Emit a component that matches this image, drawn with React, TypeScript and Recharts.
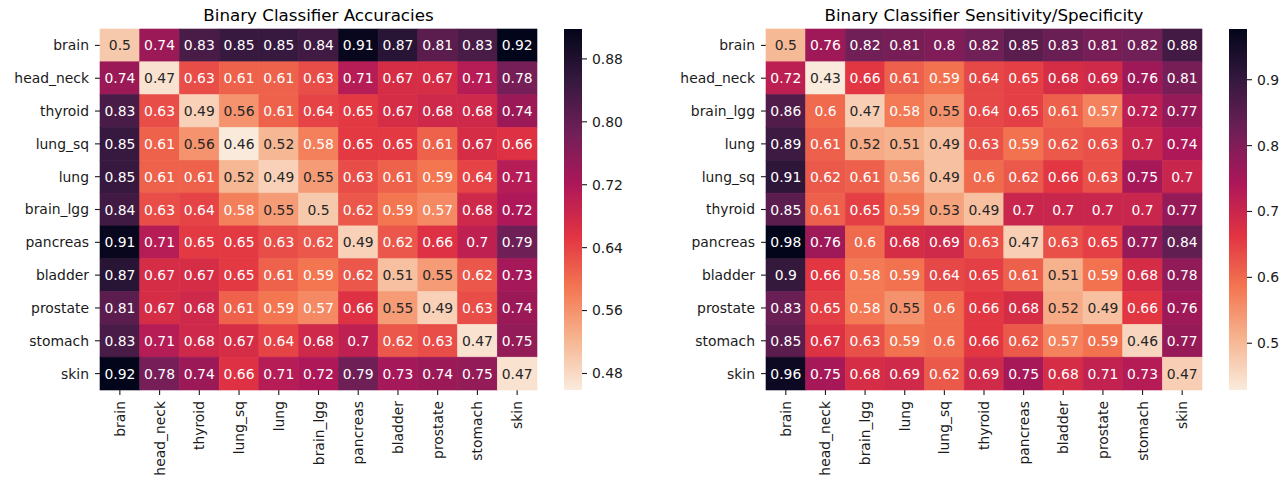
import React from 'react';
import {
  ScatterChart,
  Scatter,
  XAxis,
  YAxis,
  BarChart,
  Bar,
} from 'recharts';

// ---- data ----
const ACC_LABELS = [
  'brain', 'head_neck', 'thyroid', 'lung_sq', 'lung', 'brain_lgg',
  'pancreas', 'bladder', 'prostate', 'stomach', 'skin',
];

const ACC_VALUES = [
  [0.5, 0.74, 0.83, 0.85, 0.85, 0.84, 0.91, 0.87, 0.81, 0.83, 0.92],
  [0.74, 0.47, 0.63, 0.61, 0.61, 0.63, 0.71, 0.67, 0.67, 0.71, 0.78],
  [0.83, 0.63, 0.49, 0.56, 0.61, 0.64, 0.65, 0.67, 0.68, 0.68, 0.74],
  [0.85, 0.61, 0.56, 0.46, 0.52, 0.58, 0.65, 0.65, 0.61, 0.67, 0.66],
  [0.85, 0.61, 0.61, 0.52, 0.49, 0.55, 0.63, 0.61, 0.59, 0.64, 0.71],
  [0.84, 0.63, 0.64, 0.58, 0.55, 0.5, 0.62, 0.59, 0.57, 0.68, 0.72],
  [0.91, 0.71, 0.65, 0.65, 0.63, 0.62, 0.49, 0.62, 0.66, 0.7, 0.79],
  [0.87, 0.67, 0.67, 0.65, 0.61, 0.59, 0.62, 0.51, 0.55, 0.62, 0.73],
  [0.81, 0.67, 0.68, 0.61, 0.59, 0.57, 0.66, 0.55, 0.49, 0.63, 0.74],
  [0.83, 0.71, 0.68, 0.67, 0.64, 0.68, 0.7, 0.62, 0.63, 0.47, 0.75],
  [0.92, 0.78, 0.74, 0.66, 0.71, 0.72, 0.79, 0.73, 0.74, 0.75, 0.47],
];

const SENS_LABELS = [
  'brain', 'head_neck', 'brain_lgg', 'lung', 'lung_sq', 'thyroid',
  'pancreas', 'bladder', 'prostate', 'stomach', 'skin',
];

const SENS_VALUES = [
  [0.5, 0.76, 0.82, 0.81, 0.8, 0.82, 0.85, 0.83, 0.81, 0.82, 0.88],
  [0.72, 0.43, 0.66, 0.61, 0.59, 0.64, 0.65, 0.68, 0.69, 0.76, 0.81],
  [0.86, 0.6, 0.47, 0.58, 0.55, 0.64, 0.65, 0.61, 0.57, 0.72, 0.77],
  [0.89, 0.61, 0.52, 0.51, 0.49, 0.63, 0.59, 0.62, 0.63, 0.7, 0.74],
  [0.91, 0.62, 0.61, 0.56, 0.49, 0.6, 0.62, 0.66, 0.63, 0.75, 0.7],
  [0.85, 0.61, 0.65, 0.59, 0.53, 0.49, 0.7, 0.7, 0.7, 0.7, 0.77],
  [0.98, 0.76, 0.6, 0.68, 0.69, 0.63, 0.47, 0.63, 0.65, 0.77, 0.84],
  [0.9, 0.66, 0.58, 0.59, 0.64, 0.65, 0.61, 0.51, 0.59, 0.68, 0.78],
  [0.83, 0.65, 0.58, 0.55, 0.6, 0.66, 0.68, 0.52, 0.49, 0.66, 0.76],
  [0.85, 0.67, 0.63, 0.59, 0.6, 0.66, 0.62, 0.57, 0.59, 0.46, 0.77],
  [0.96, 0.75, 0.68, 0.69, 0.62, 0.69, 0.75, 0.68, 0.71, 0.73, 0.47],
];

// colour scale limits (from the colorbars)
const ACC_RANGE = [0.459, 0.918];
const SENS_RANGE = [0.429, 0.977];
const ACC_TICKS = [0.48, 0.56, 0.64, 0.72, 0.8, 0.88];
const SENS_TICKS = [0.5, 0.6, 0.7, 0.8, 0.9];

// seaborn "rocket", dark -> light
const ROCKET = ['#03051a', '#35193e', '#701f57', '#ad1759', '#e13342', '#f37651', '#f6b48f', '#faebdd'];

const FONT = '"DejaVu Sans", sans-serif';
const TEXT = '#1a1a1a';
const HEIGHT = 482;
const TOP = 29;
const X_AXIS_H = 92;
const Y_AXIS_W = 90;

const hexToRgb = (h: string) => [1, 3, 5].map(i => parseInt(h.slice(i, i + 2), 16));

// position 0 = dark, 1 = light
const rocketAt = (p: number) => {
  const t = Math.min(1, Math.max(0, p)) * (ROCKET.length - 1);
  const i = Math.min(ROCKET.length - 2, Math.floor(t));
  const f = t - i;
  const a = hexToRgb(ROCKET[i]);
  const b = hexToRgb(ROCKET[i + 1]);
  return a.map((v, k) => Math.round(v + (b[k] - v) * f));
};

const lin = (c: number) => {
  const s = c / 255;
  return s <= 0.03928 ? s / 12.92 : Math.pow((s + 0.055) / 1.055, 2.4);
};

const cellColor = (v: number, range: number[]) => {
  const rgb = rocketAt(1 - (v - range[0]) / (range[1] - range[0]));
  const lum = 0.2126 * lin(rgb[0]) + 0.7152 * lin(rgb[1]) + 0.0722 * lin(rgb[2]);
  return {
    fill: `rgb(${rgb[0]},${rgb[1]},${rgb[2]})`,
    text: lum > 0.408 ? '#262626' : '#ffffff',
  };
};

const XTick = ({ x, y, payload, labels }: any) => (
  <g transform={`translate(${x},${y})`}>
    <text
      transform="rotate(-90)"
      textAnchor="end"
      dy="0.36em"
      fontSize={13.9}
      fontFamily={FONT}
      fill={TEXT}
    >
      {labels[Math.floor(payload.value)]}
    </text>
  </g>
);

interface HeatmapProps {
  title: string;
  labels: string[];
  values: number[][];
  range: number[];
  left: number;
  width: number;
  marginLeft: number;
  marginRight: number;
}

const Heatmap = ({ title, labels, values, range, left, width, marginLeft, marginRight }: HeatmapProps) => {
  const n = labels.length;
  const plotW = width - marginLeft - Y_AXIS_W - marginRight;
  const plotH = HEIGHT - TOP - X_AXIS_H;
  const cellW = plotW / n;
  const cellH = plotH / n;
  const ticks = labels.map((_, i) => i + 0.5);

  const data = values.flatMap((row, r) =>
    row.map((value, c) => ({ col: c + 0.5, row: r + 0.5, value }))
  );

  const renderCell = (props: any) => {
    const { cx, cy, payload } = props;
    const { fill, text } = cellColor(payload.value, range);
    return (
      <g>
        <rect
          x={cx - cellW / 2}
          y={cy - cellH / 2}
          width={cellW}
          height={cellH}
          fill={fill}
          stroke={fill}
          strokeWidth={0.6}
        />
        <text
          x={cx}
          y={cy}
          dy="0.36em"
          textAnchor="middle"
          fontSize={13.9}
          fontFamily={FONT}
          fill={text}
        >
          {String(payload.value)}
        </text>
      </g>
    );
  };

  return (
    <>
      <div
        style={{
          position: 'absolute',
          left: left + marginLeft + Y_AXIS_W,
          top: 6.5,
          width: plotW,
          textAlign: 'center',
          fontFamily: FONT,
          fontSize: 16.7,
          lineHeight: '16.7px',
          color: '#000',
          whiteSpace: 'nowrap',
        }}
      >
        {title}
      </div>
      <div style={{ position: 'absolute', left, top: 0 }}>
        <ScatterChart
          width={width}
          height={HEIGHT}
          margin={{ top: TOP, right: marginRight, bottom: 0, left: marginLeft }}
        >
          <XAxis
            type="number"
            dataKey="col"
            domain={[0, n]}
            ticks={ticks}
            interval={0}
            axisLine={false}
            tickSize={5}
            tickMargin={6}
            height={X_AXIS_H}
            tickLine={{ stroke: TEXT, strokeWidth: 1.1 }}
            tick={<XTick labels={labels} />}
          />
          <YAxis
            type="number"
            dataKey="row"
            domain={[0, n]}
            reversed
            ticks={ticks}
            interval={0}
            width={Y_AXIS_W}
            axisLine={false}
            tickSize={5}
            tickMargin={6}
            tickLine={{ stroke: TEXT, strokeWidth: 1.1 }}
            tickFormatter={(v: number) => labels[Math.floor(v)]}
            tick={{ fontSize: 13.9, fontFamily: FONT, fill: TEXT }}
          />
          <Scatter data={data} shape={renderCell} isAnimationActive={false} />
        </ScatterChart>
      </div>
    </>
  );
};

interface ColorbarProps {
  id: string;
  range: number[];
  ticks: number[];
  digits: number;
  left: number;
}

// colorbar = one range bar spanning [min, max], filled with the colormap gradient
const Colorbar = ({ id, range, ticks, digits, left }: ColorbarProps) => (
  <div style={{ position: 'absolute', left, top: 0 }}>
    <BarChart
      width={66}
      height={HEIGHT}
      data={[{ name: id, span: range }]}
      margin={{ top: TOP, right: 0, bottom: X_AXIS_H, left: 0 }}
      barCategoryGap={0}
    >
      <defs>
        <linearGradient id={id} x1="0" y1="0" x2="0" y2="1">
          {ROCKET.map((c, i) => (
            <stop key={c} offset={i / (ROCKET.length - 1)} stopColor={c} />
          ))}
        </linearGradient>
      </defs>
      <XAxis dataKey="name" hide />
      <YAxis
        type="number"
        orientation="right"
        domain={range}
        allowDataOverflow
        ticks={ticks}
        interval={0}
        width={48}
        axisLine={false}
        tickSize={5}
        tickMargin={5}
        tickLine={{ stroke: TEXT, strokeWidth: 1.1 }}
        tickFormatter={(v: number) => v.toFixed(digits)}
        tick={{ fontSize: 13.9, fontFamily: FONT, fill: TEXT }}
      />
      <Bar dataKey="span" fill={`url(#${id})`} isAnimationActive={false} />
    </BarChart>
  </div>
);

export default function App() {
  return (
    <div
      style={{
        position: 'absolute',
        left: 0,
        top: 0,
        width: 1287,
        height: HEIGHT,
        background: '#fff',
        overflow: 'hidden',
      }}
    >
      <Heatmap
        title="Binary Classifier Accuracies"
        labels={ACC_LABELS}
        values={ACC_VALUES}
        range={ACC_RANGE}
        left={0}
        width={640}
        marginLeft={10}
        marginRight={103}
      />
      <Colorbar id="accGrad" range={ACC_RANGE} ticks={ACC_TICKS} digits={2} left={564} />
      <Heatmap
        title="Binary Classifier Sensitivity/Specificity"
        labels={SENS_LABELS}
        values={SENS_VALUES}
        range={SENS_RANGE}
        left={640}
        width={647}
        marginLeft={36}
        marginRight={85}
      />
      <Colorbar id="sensGrad" range={SENS_RANGE} ticks={SENS_TICKS} digits={1} left={1229} />
    </div>
  );
}
